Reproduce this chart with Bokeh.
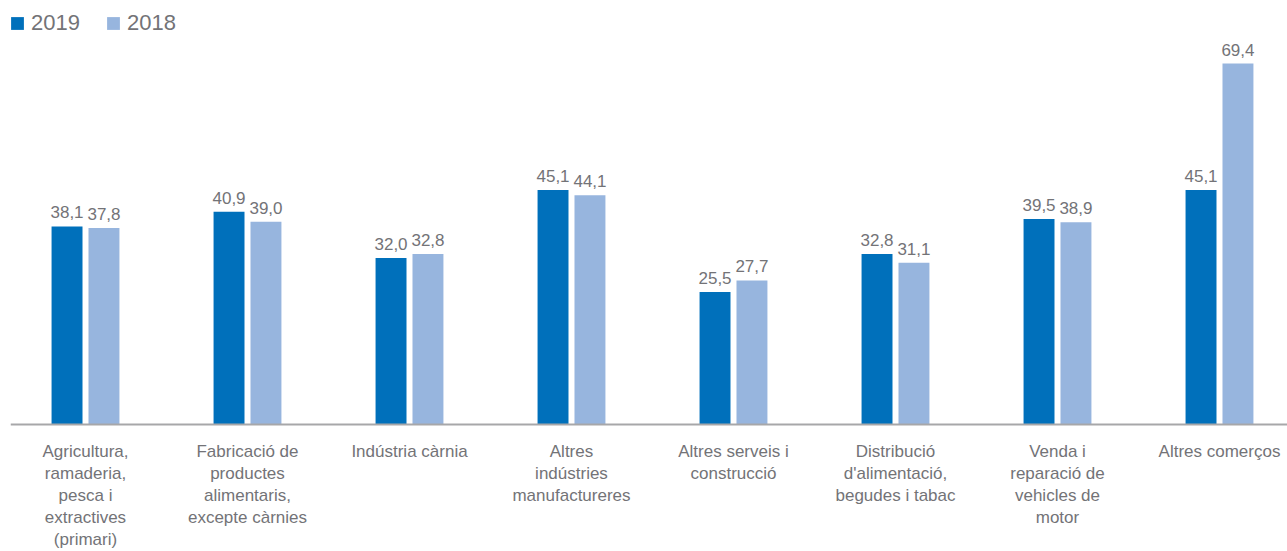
from bokeh.plotting import figure
from bokeh.models import ColumnDataSource, Range1d, Legend, LegendItem, Span
from bokeh.core.properties import value
from bokeh.embed import file_html
from bokeh.resources import INLINE

categories = [
    "Agricultura,\nramaderia,\npesca i\nextractives\n(primari)",
    "Fabricació de\nproductes\nalimentaris,\nexcepte càrnies",
    "Indústria càrnia",
    "Altres\nindústries\nmanufactureres",
    "Altres serveis i\nconstrucció",
    "Distribució\nd'alimentació,\nbegudes i tabac",
    "Venda i\nreparació de\nvehicles de\nmotor",
    "Altres comerços",
]
values_2019 = [38.1, 40.9, 32.0, 45.1, 25.5, 32.8, 39.5, 45.1]
values_2018 = [37.8, 39.0, 32.8, 44.1, 27.7, 31.1, 38.9, 69.4]
series_names = ["2019", "2018"]

C2019 = "#0070BB"
C2018 = "#97B5DE"
TXT = "#737377"
FONT_NAME = "Liberation Sans"
FONT = value(FONT_NAME)

xs = list(range(len(categories)))
off = 0.114
bw = 0.191

src19 = ColumnDataSource(dict(x=[i - off for i in xs], top=values_2019,
                              lab=[f"{v:.1f}".replace(".", ",") for v in values_2019]))
src18 = ColumnDataSource(dict(x=[i + off for i in xs], top=values_2018,
                              lab=[f"{v:.1f}".replace(".", ",") for v in values_2018]))
srccat = ColumnDataSource(dict(x=xs, y=[0] * len(xs), text=categories))

p = figure(width=1287, height=551, output_backend="svg", toolbar_location=None,
           x_range=Range1d(-0.46296, 7.4198), y_range=Range1d(-24.423, 81.538),
           min_border_left=10, min_border_right=0, min_border_top=0, min_border_bottom=0)
p.xaxis.visible = False
p.yaxis.visible = False
p.xgrid.visible = False
p.ygrid.visible = False
p.outline_line_color = None
p.background_fill_color = "white"
p.border_fill_color = "white"

r19 = p.vbar(x="x", top="top", width=bw, source=src19, color=C2019, line_color=None)
r18 = p.vbar(x="x", top="top", width=bw, source=src18, color=C2018, line_color=None)

for s in (src19, src18):
    p.text(x="x", y="top", text="lab", source=s, text_align="center",
           text_baseline="bottom", y_offset=-8, text_font=FONT,
           text_font_size="17px", text_color=TXT)

p.add_layout(Span(location=0, dimension="width", line_color="#a7a7a9", line_width=2))

p.text(x="x", y="y", text="text", source=srccat, text_align="center",
       text_baseline="top", y_offset=18, text_font=FONT, text_font_size="17px",
       text_color=TXT, text_line_height=1.15)

legend = Legend(items=[LegendItem(label=series_names[0], renderers=[r19]),
                       LegendItem(label=series_names[1], renderers=[r18])],
                orientation="horizontal", location=(-1, 515),
                glyph_width=16, glyph_height=16, label_standoff=6, spacing=25,
                padding=0, margin=0, border_line_color=None,
                background_fill_alpha=0, label_text_font=FONT_NAME,
                label_text_font_size="22px", label_text_color=TXT)
p.add_layout(legend, "center")

open("out.html", "w").write(file_html(p, INLINE))
